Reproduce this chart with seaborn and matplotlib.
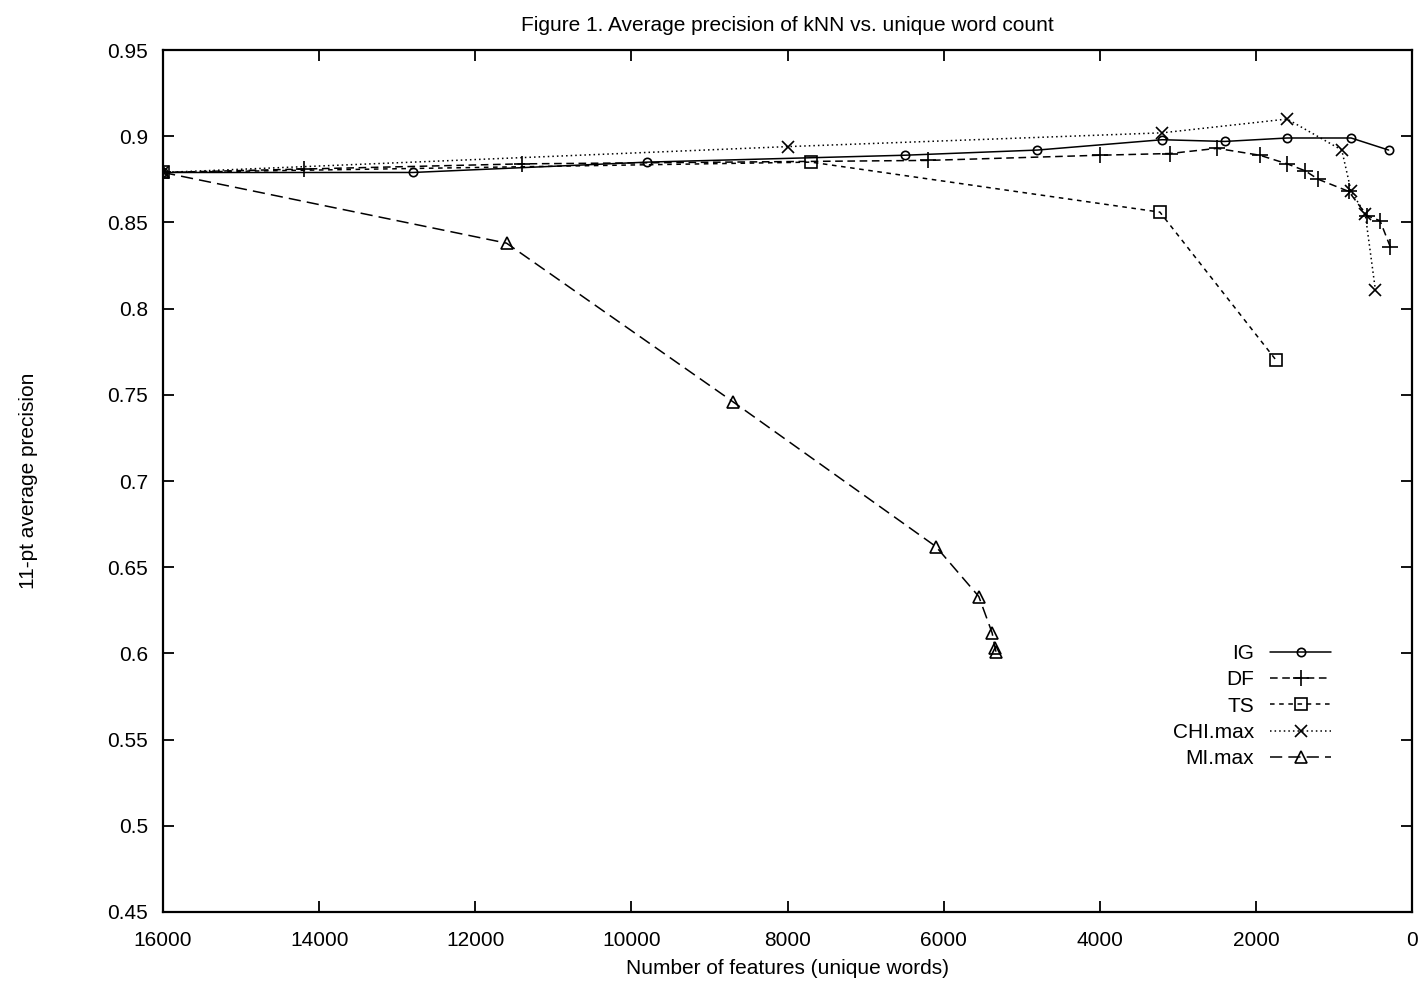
"""Recreate Figure 1: average precision of kNN vs. unique word count."""

import matplotlib
matplotlib.use("Agg")
import matplotlib.pyplot as plt
import numpy as np
import pandas as pd
import seaborn as sns
from matplotlib.ticker import FuncFormatter, MultipleLocator

sns.set_theme(style="ticks")
plt.rcParams["font.family"] = ["Liberation Sans", "DejaVu Sans"]
plt.rcParams["text.color"] = "black"
plt.rcParams["axes.labelcolor"] = "black"

# ------------------------------------------------------------------
# Data (x = number of features, y = 11-pt avg precision)
# ------------------------------------------------------------------
ig_x = [16000, 12800, 9800, 6500, 4800, 3200, 2400, 1600, 780, 300]
ig_y = [0.879, 0.879, 0.885, 0.889, 0.892, 0.898, 0.897, 0.899, 0.899, 0.892]

df_x = [16000, 14200, 11400, 6200, 4000, 3100, 2500, 1950, 1600, 1370,
        1200, 810, 580, 410, 280]
df_y = [0.879, 0.881, 0.884, 0.886, 0.889, 0.890, 0.893, 0.889, 0.884, 0.880,
        0.875, 0.868, 0.854, 0.851, 0.836]

ts_x = [16000, 7700, 3230, 1740]
ts_y = [0.879, 0.885, 0.856, 0.770]

chi_x = [16000, 8000, 3200, 1600, 900, 780, 600, 470]
chi_y = [0.879, 0.894, 0.902, 0.910, 0.892, 0.868, 0.855, 0.811]

mi_x = [16000, 11600, 8700, 6100, 5550, 5380, 5340, 5330]
mi_y = [0.879, 0.838, 0.746, 0.662, 0.633, 0.612, 0.603, 0.601]

methods = ["IG", "DF", "TS", "CHI.max", "MI.max"]
series = {
    "IG": (ig_x, ig_y),
    "DF": (df_x, df_y),
    "TS": (ts_x, ts_y),
    "CHI.max": (chi_x, chi_y),
    "MI.max": (mi_x, mi_y),
}

rows = []
for name in methods:
    xs, ys = series[name]
    for x, y in zip(xs, ys):
        rows.append({"method": name, "features": x, "precision": y})
data = pd.DataFrame(rows)

# gnuplot-ish line/point styles
styles = {
    "IG": dict(marker="o", markersize=6, linestyle="-"),
    "DF": dict(marker="+", markersize=12, linestyle=(0, (5, 3))),
    "TS": dict(marker="s", markersize=9, linestyle=(0, (3, 3))),
    "CHI.max": dict(marker="x", markersize=9, linestyle=(0, (1, 2))),
    "MI.max": dict(marker="^", markersize=8, linestyle=(0, (8, 4))),
}

# ------------------------------------------------------------------
# Figure
# ------------------------------------------------------------------
fig = plt.figure(figsize=(14.23, 9.82), dpi=100)
ax = fig.add_axes([0.1146, 0.0713, 0.8777, 0.8777])

for name in methods:
    sub = data[data["method"] == name]
    st = styles[name]
    sns.lineplot(
        data=sub, x="features", y="precision", ax=ax,
        sort=False, estimator=None, color="black",
        linewidth=1.1, marker=st["marker"], markersize=st["markersize"],
        linestyle=st["linestyle"], markerfacecolor="none",
        markeredgecolor="black", markeredgewidth=1.2,
        label=name,
    )

ax.set_xlim(16000, 0)
ax.set_ylim(0.45, 0.95)
ax.xaxis.set_major_locator(MultipleLocator(2000))
ax.yaxis.set_major_locator(MultipleLocator(0.05))
ax.yaxis.set_major_formatter(FuncFormatter(lambda v, _: f"{v:g}"))
ax.xaxis.set_major_formatter(FuncFormatter(lambda v, _: f"{int(round(v))}"))

ax.tick_params(direction="in", top=True, right=True, length=8, width=1.3,
               labelsize=15, colors="black")
ax.tick_params(axis="x", pad=14)
ax.tick_params(axis="y", pad=11)
for sp in ax.spines.values():
    sp.set_linewidth(1.6)
    sp.set_color("black")

ax.set_xlabel("Number of features (unique words)", fontsize=15, labelpad=6)
ax.set_ylabel("11-pt average precision", fontsize=15, labelpad=50)
ax.set_title("Figure 1. Average precision of kNN vs. unique word count",
             fontsize=15, pad=14, color="black")

leg = ax.legend(
    loc="lower right", bbox_to_anchor=(0.95, 0.145),
    markerfirst=False, frameon=False, fontsize=15,
    handlelength=2.9, handletextpad=0.8, labelspacing=0.35,
    numpoints=1,
)

fig.savefig("out.png", dpi=100)
